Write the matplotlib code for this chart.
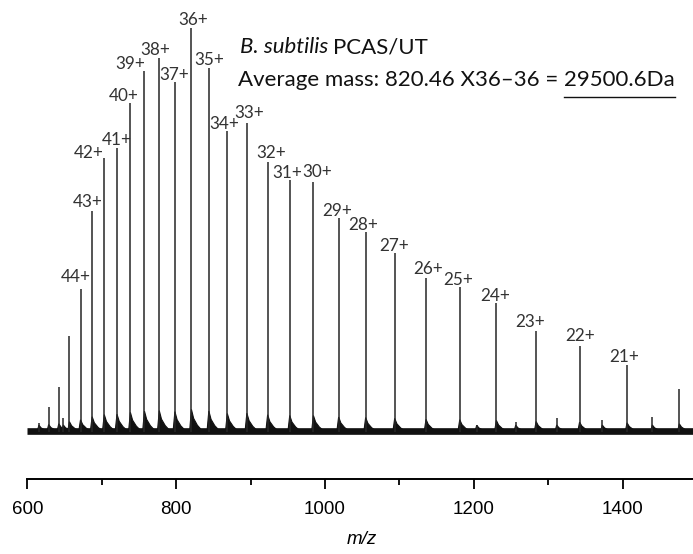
"""Charge state envelope of the B. subtilis PCAS/UT mass spectrum."""
import matplotlib
matplotlib.use("Agg")
import matplotlib.pyplot as plt
from matplotlib.lines import Line2D

# Labelled charge states and their peaks (m/z, relative intensity %).
charges = [44, 43, 42, 41, 40, 39, 38, 37, 36, 35, 34, 33, 32,
           31, 30, 29, 28, 27, 26, 25, 24, 23, 22, 21]
peak_mz = [671.5, 687.1, 703.4, 720.5, 738.5, 757.4, 777.3, 798.3, 820.5,
           843.9, 868.7, 895.0, 922.9, 952.6, 984.4, 1018.3, 1054.6,
           1093.6, 1135.7, 1181.0, 1230.2, 1283.6, 1342.0, 1405.8]
peak_int = [35.4, 54.8, 67.8, 70.3, 81.6, 89.4, 92.6, 86.6, 100.0, 90.2,
            74.6, 76.5, 67.0, 62.4, 61.9, 52.9, 49.5, 44.3, 38.1, 36.0,
            31.9, 25.1, 21.3, 16.6]

# Unlabelled peaks (higher charges, 20+ and small satellites).
minor_mz = [615.6, 628.7, 642.3, 648.4, 656.6, 1203.8, 1256.2, 1311.3,
            1372.5, 1439.7, 1476.0]
minor_int = [2.2, 6.1, 11.1, 3.4, 23.8, 1.7, 2.5, 3.5, 3.0, 3.7, 10.7]

# Label offsets from each peak top, in pixels (dx, dy).
label_dx = [-5, -4, -16, 0, -7, -14, -4, -1, 2, 0, -3, 2, 4,
            -2, 4, -1, -2, -1, 2, -2, -1, -6, 1, -3]
label_dy = [12, 9, 5, 8, 7, 7, 8, 7, 8, 8, 7, 10, 9,
            7, 10, 7, 7, 7, 9, 7, 7, 9, 10, 8]

W, H = 693, 554
fig = plt.figure(figsize=(W / 100, H / 100), dpi=100)
# axes: x=600 at px 27.3, right edge at px 693; spine at px 479 from top
ax = fig.add_axes([27.3 / W, 1 - 479 / H, 1 - 27.3 / W, (479 - 20) / H])
ax.set_xlim(600, 1494.4)
ax.set_ylim(-11.64, 102.06)

ink = "#111111"
# baseline noise band
ax.hlines(0.2, 600, 1494.4, color=ink, lw=4.8, zorder=2)
all_mz = peak_mz + minor_mz
all_int = peak_int + minor_int
# broadened, right-tailing feet of the peaks
for mz, h in zip(all_mz, all_int):
    f = min(h, 1.6 + 0.04 * h)
    ax.fill([mz - 2.5, mz, mz + 3, mz + 8, mz + 16],
            [0, f, f * 0.6, f * 0.3, 0], color=ink, lw=0.8, zorder=2)
# the peaks themselves
ax.vlines(all_mz, 0, all_int, color="#262626", lw=1.1, zorder=3)

for z, mz, h, dx, dy in zip(charges, peak_mz, peak_int, label_dx, label_dy):
    ax.annotate(f"{z}+", (mz, h), xytext=(dx, dy), textcoords="offset pixels",
                ha="center", va="center", fontsize=12.3, family="Lato",
                color="#333333")

# axis styling: only the bottom spine
for side in ("left", "right", "top"):
    ax.spines[side].set_visible(False)
ax.spines["bottom"].set_linewidth(1.4)
ax.set_yticks([])
ax.set_xticks([600, 800, 1000, 1200, 1400])
ax.set_xticks([700, 900, 1100, 1300], minor=True)
ax.tick_params(axis="x", which="major", direction="out", length=7.5,
               width=1.3, pad=8.5, labelsize=13.5)
ax.tick_params(axis="x", which="minor", direction="out", length=4.5,
               width=1.3)
for lab in ax.get_xticklabels():
    lab.set_family("Liberation Sans")
fig.text(362 / W, 1 - 540 / H, "m/z", fontsize=13.5, style="italic",
         family="Liberation Sans", ha="center", va="center")

# annotation text block
fs = 16
fig.canvas.draw()
r = fig.canvas.get_renderer()
t1 = fig.text(240 / W, 1 - 47 / H, "B. subtilis", style="italic",
              family="Lato", fontsize=fs, va="center", color="#111111")
x1 = t1.get_window_extent(r).x1
fig.text((x1 + 5) / W, 1 - 47 / H, "PCAS/UT", family="Lato", fontsize=fs,
         va="center", color="#111111")
t2 = fig.text(238 / W, 1 - 80 / H, "Average mass: 820.46 X36\u201336 = 29500.6Da",
              family="Lato", fontsize=fs, va="center", color="#111111")
tmp = fig.text(0, 0, "29500.6Da", family="Lato", fontsize=fs)
uw = tmp.get_window_extent(r).width
tmp.remove()
end = t2.get_window_extent(r).x1
uy = H - 97
fig.add_artist(Line2D([(end - uw) / W, end / W], [uy / H, uy / H],
                      color="#111111", lw=1.0))

fig.savefig("out.png", dpi=100)
